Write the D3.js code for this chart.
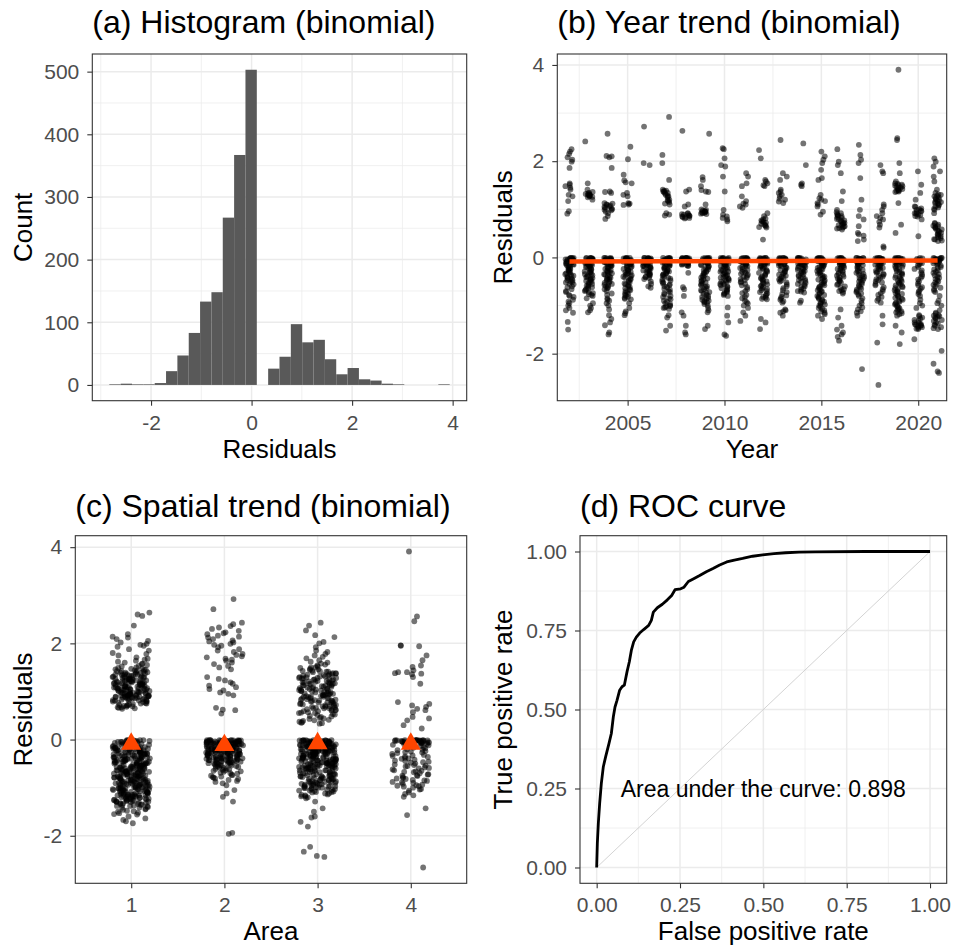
<!DOCTYPE html>
<html><head><meta charset="utf-8">
<script src="https://cdn.jsdelivr.net/npm/d3@7"></script>
<style>body{margin:0;background:#fff}svg{display:block}</style>
</head><body><svg id="c" width="955" height="950"></svg>
<script>
// ---------------- DATA ----------------
// (a) histogram: 30 bins
const histBinStart = -2.83;
const histBinWidth = 0.2257;
const histCounts = [1,2,1,1,3,22,47,83,133,148,267,367,503,0,26,45,97,68,72,41,17,27,9,7,2,1,0,0,0,1];

// (b) residuals by year (values in hundredths)
const years = [2002,2003,2004,2005,2006,2007,2008,2009,2010,2011,2012,2013,2014,2015,2016,2017,2018,2019,2020,2021];
const y2002 = [225,220,215,208,203,199,186,154,151,148,145,141,130,127,117,96,91,-1,-1,-2,-3,-4,-5,-6,-8,-10,-12,-14,-16,-19,-22,-25,-28,-30,-33,-36,-38,-40,-42,-45,-48,-50,-52,-55,-60,-66,-72,-78,-82,-88,-95,-100,-105,-110,-115,-134,-150,
 -1,-2,-3,-4,-6,-7,-9,-11,-13,-15,-18,-21,-24,-27,-31,-35,-39,-43,-47,-51,-56,-62,-70,-80,-92];
const y2003 = [241,154,141,136,134,131,130,128,127,125,120,-1,-1,-2,-2,-3,-4,-5,-6,-7,-9,-10,-12,-14,-16,-18,-20,-23,-26,-29,-32,-35,-38,-41,-44,-47,-50,-53,-57,-60,-64,-68,-72,-76,-80,-85,-95,-100,-105,-110,-114,
 133,132,130,129,126,-1,-2,-3,-4,-6,-8,-11,-13,-15,-17,-19,-22,-25,-28,-31,-34,-37,-40,-43,-46,-49,-52,-55,-59,-62,-66,-70,-74,-78];
const y2004 = [257,211,210,208,186,137,136,134,113,110,108,106,103,99,95,92,86,80,-1,-1,-2,-3,-4,-5,-7,-8,-10,-12,-14,-16,-18,-21,-24,-27,-30,-33,-36,-40,-43,-46,-50,-53,-57,-60,-64,-70,-78,-85,-90,-95,-100,-108,-120,-128,-135,-141,-156,-160,
 112,109,105,102,100,98,-1,-2,-3,-5,-6,-9,-11,-13,-15,-17,-20,-23,-26,-29,-32,-35,-38,-42,-45,-48,-52,-55,-59,-62,-66,-75,-88];
const y2005 = [230,204,172,160,156,154,134,130,127,113,112,110,109,-1,-1,-2,-3,-4,-5,-6,-8,-10,-12,-14,-16,-19,-22,-25,-28,-31,-34,-37,-40,-44,-48,-52,-56,-60,-64,-68,-72,-76,-80,-84,-87,-95,-105,-112,-116,-120,
 -1,-2,-3,-5,-7,-9,-11,-13,-15,-18,-21,-24,-27,-30,-33,-36,-39,-42,-46,-50,-54,-58,-62,-66,-70,-74,-78,-82,-86];
const y2006 = [272,196,192,-1,-1,-2,-2,-3,-4,-5,-6,-7,-8,-10,-12,-14,-16,-18,-20,-23,-26,-29,-32,-35,-38,-41,-45,-50,-55,-60,-63,
 -1,-2,-3,-4,-5,-6,-7,-9,-11,-13,-15,-17,-19,-21,-24,-27,-30,-33,-36,-40,-43];
const y2007 = [292,213,196,161,141,138,137,134,130,127,120,117,110,92,89,87,-1,-1,-2,-3,-4,-5,-7,-9,-11,-13,-15,-18,-21,-24,-27,-30,-33,-36,-40,-44,-48,-52,-56,-60,-65,-70,-75,-80,-85,-90,-95,-100,-102,-105,-107,-120,-125,-142,-152,
 139,136,133,128,125,119,115,112,-1,-2,-3,-4,-6,-8,-10,-12,-14,-17,-20,-23,-26,-29,-32,-35,-38,-42,-46,-50,-54,-58,-62,-67,-72,-77,-82,-87,-92,-97,-101,-104];
const y2008 = [263,141,137,110,106,92,90,88,86,84,82,-1,-1,-2,-2,-3,-4,-5,-6,-8,-10,-12,-14,-16,-18,-32,-62,-66,-80,-114,-121,-142,-156,-160,
 91,89,87,85,83,81,-1,-1,-2,-3,-3,-4,-5,-6,-7,-9,-11,-13,-15,-17];
const y2009 = [257,167,161,148,140,137,136,110,100,99,97,95,94,92,90,-1,-1,-2,-3,-4,-5,-6,-8,-10,-12,-15,-18,-21,-25,-28,-32,-36,-40,-44,-48,-52,-56,-60,-64,-68,-72,-76,-80,-84,-88,-91,-94,-97,-100,-105,-110,-114,-142,-149,
 96,95,93,91,-1,-2,-3,-4,-7,-9,-11,-13,-16,-19,-23,-26,-30,-34,-38,-42,-46,-50,-54,-58,-62,-66,-70,-74,-78,-82,-86,-90,-93];
const y2010 = [227,225,206,192,189,168,137,99,89,85,82,79,75,-1,-1,-2,-3,-4,-5,-6,-8,-10,-12,-14,-17,-20,-23,-26,-29,-32,-35,-38,-41,-44,-47,-50,-53,-56,-60,-64,-68,-72,-76,-80,-104,-121,-135,-160,-163,
 -1,-2,-3,-4,-7,-9,-11,-13,-15,-18,-21,-24,-27,-30,-33,-36,-39,-42,-45,-48,-51,-55,-58,-62,-66,-70,-74,-78];
const y2011 = [175,168,154,148,127,117,112,110,106,103,-1,-1,-2,-3,-4,-5,-7,-9,-11,-14,-17,-20,-24,-28,-32,-36,-40,-45,-50,-55,-62,-70,-78,-85,-90,-96,-100,-105,-114,-121,-132,
 -1,-2,-3,-4,-6,-8,-10,-12,-15,-18,-22,-26,-30,-34,-38,-42,-47,-52,-58,-66,-74,-82,-93];
const y2012 = [223,206,161,158,154,150,148,92,86,79,75,72,68,65,62,37,-1,-1,-2,-3,-4,-5,-6,-8,-10,-12,-14,-17,-20,-23,-26,-30,-34,-38,-42,-46,-50,-54,-58,-62,-66,-70,-75,-80,-84,-87,-128,-135,-149,
 81,77,74,70,67,63,-1,-2,-3,-4,-7,-9,-11,-13,-15,-18,-21,-24,-28,-32,-36,-40,-44,-48,-52,-56,-60,-64,-68,-72,-77,-82,-86];
const y2013 = [244,175,168,161,141,137,134,130,127,122,120,116,113,-1,-1,-2,-3,-4,-5,-6,-8,-10,-12,-14,-17,-20,-24,-28,-32,-36,-40,-44,-48,-52,-60,-68,-76,-82,-88,-94,-108,-110,-112,-115,-121,
 -1,-2,-3,-4,-7,-9,-11,-13,-15,-18,-22,-26,-30,-34,-38,-42,-46,-50,-56,-64,-72,-79,-85,-91];
const y2014 = [237,192,154,151,148,-1,-1,-2,-3,-4,-5,-6,-7,-8,-10,-12,-14,-16,-19,-22,-25,-28,-31,-35,-39,-43,-47,-51,-55,-60,-65,-70,-73,-90,-94,
 -1,-2,-3,-4,-5,-6,-9,-11,-13,-15,-17,-20,-23,-26,-29,-33,-37,-41,-45,-49,-53,-57,-62,-67,-71];
const y2015 = [220,210,203,196,182,165,161,130,123,120,117,113,110,106,95,89,-1,-1,-2,-3,-4,-5,-7,-9,-11,-13,-16,-19,-22,-25,-28,-32,-36,-40,-44,-48,-52,-56,-60,-64,-68,-72,-76,-80,-84,-88,-92,-96,-100,-105,-110,-115,-121,-128,
 -1,-2,-3,-4,-6,-8,-10,-12,-14,-17,-20,-23,-26,-30,-34,-38,-42,-46,-50,-54,-58,-62,-66,-70,-74,-78,-82,-86,-90,-94,-98,-102,-107,-112,-118];
const y2016 = [225,199,192,175,137,117,99,94,92,88,86,82,79,76,72,70,68,65,62,58,-1,-1,-2,-3,-4,-5,-6,-8,-10,-12,-14,-17,-20,-23,-26,-30,-34,-38,-42,-46,-50,-55,-60,-66,-70,-75,-108,-125,-142,-150,-156,-160,-165,-173,
 90,87,84,80,77,74,71,67,64,61,60,-1,-2,-3,-4,-7,-9,-11,-13,-15,-18,-21,-24,-28,-32,-36,-40,-44,-48,-52,-57,-63,-68,-72];
const y2017 = [234,213,203,196,165,120,99,86,79,65,51,48,45,37,34,-1,-1,-2,-3,-4,-5,-6,-8,-10,-12,-15,-18,-22,-26,-30,-34,-38,-42,-46,-50,-55,-60,-65,-70,-75,-80,-90,-100,-108,-115,-121,-232,
 -1,-2,-3,-4,-7,-9,-11,-13,-16,-20,-24,-28,-32,-36,-40,-44,-48,-52,-57,-62,-67,-72,-77,-85,-95,-104,-112];
const y2018 = [192,179,175,110,106,99,92,86,82,79,74,68,62,23,20,-1,-1,-2,-3,-4,-5,-6,-8,-10,-12,-15,-18,-21,-24,-28,-32,-36,-40,-45,-50,-55,-62,-70,-78,-90,-94,-121,-139,-177,-265,
 -1,-2,-3,-4,-7,-9,-11,-13,-16,-19,-22,-26,-30,-34,-38,-42,-47,-52,-58,-66,-74,-82,-86];
const y2019 = [390,248,244,196,175,158,154,150,148,145,141,139,137,113,68,51,-1,-1,-2,-3,-4,-5,-6,-8,-10,-12,-14,-17,-20,-24,-28,-32,-36,-40,-44,-48,-52,-56,-60,-64,-68,-72,-76,-80,-84,-88,-92,-96,-100,-104,-108,-112,-116,-121,-142,-156,-180,
 153,151,149,147,144,142,140,138,136,-1,-2,-3,-4,-7,-9,-11,-13,-15,-18,-22,-26,-30,-34,-38,-42,-46,-50,-54,-58,-62,-66,-70,-74,-78,-82,-86,-90,-94,-98,-102,-106,-110,-114,-118];
const y2020 = [179,151,134,120,106,102,99,96,92,89,86,79,44,-1,-2,-4,-6,-10,-14,-20,-27,-35,-42,-50,-58,-65,-72,-80,-88,-95,-100,-105,-120,-125,-130,-135,-138,-140,-142,-145,-149,-170,
 105,100,97,94,91,88,85,-3,-8,-12,-17,-24,-31,-39,-46,-54,-62,-69,-76,-122,-127,-132,-136,-139,-141,-143,-146,-148];
const y2021 = [206,199,189,179,168,158,141,134,130,127,123,120,116,113,110,106,99,92,72,68,65,62,58,55,51,47,44,40,37,34,-1,-1,-2,-3,-4,-5,-7,-9,-12,-15,-20,-25,-30,-35,-40,-45,-50,-55,-60,-66,-72,-80,-90,-95,-100,-110,-115,-120,-122,-125,-130,-135,-140,-145,-149,-194,-221,-237,-240,
 131,128,125,121,118,115,112,108,104,101,70,66,63,60,56,53,49,45,42,38,35,-1,-2,-3,-4,-6,-8,-10,-13,-17,-22,-27,-32,-37,-42,-47,-52,-57,-63,-69,-117,-121,-124,-127,-132,-137,-142,-147];
const trendYears = [2002, 2021];
const trendValues = [-0.085, -0.062];

// (c) residuals by area (values in hundredths)
const areas = [1,2,3,4];
const area1 = [264,260,257,237,219,214,212,209,205,202,199,197,195,193,188,185,180,178,175,171,168,166,164,162,160,158,157,155,153,
152,150,149,147,146,145,144,143,142,141,140,140,139,138,137,137,136,135,135,134,133,133,132,131,131,130,129,129,128,127,127,126,125,125,124,123,123,122,121,121,120,119,119,118,117,117,116,115,115,114,113,113,112,111,111,110,109,109,108,107,107,106,105,105,104,103,103,102,101,101,100,99,99,98,97,97,96,95,95,94,93,93,92,92,91,91,90,90,89,89,88,88,87,86,85,84,83,82,81,80,79,78,76,75,74,72,71,70,68,67,66,64,
-1,-1,-2,-2,-3,-3,-4,-5,-5,-6,-7,-7,-8,-9,-10,-10,-11,-12,-13,-13,-14,-15,-16,-16,-17,-18,-19,-19,-20,-21,-22,-22,-23,-24,-25,-25,-26,-27,-28,-28,-29,-30,-31,-31,-32,-33,-34,-34,-35,-36,-37,-37,-38,-39,-40,-40,-41,-42,-43,-43,-44,-45,-46,-46,-47,-48,-49,-49,-50,-51,-52,-52,-53,-54,-55,-55,-56,-57,-58,-58,-59,-60,-61,-61,-62,-63,-64,-64,-65,-66,-67,-67,-68,-69,-70,-70,-71,-72,-73,-73,-74,-75,-76,-76,-77,-78,-79,-79,-80,-81,-82,-82,-83,-84,-85,-85,-86,-87,-88,-88,-89,-90,-91,-91,-92,-93,-94,-94,-95,-96,-97,-97,-98,-99,-100,-100,-101,-102,-103,-103,-104,-105,-106,-106,-107,-108,-109,-109,-110,-111,-112,-112,-113,-114,-115,-115,-116,-117,-118,-118,-119,-120,-121,-121,-122,-123,-124,-125,-126,-127,-128,-129,-130,-131,-132,-133,-134,-135,-136,-137,-138,-139,-140,-142,-144,-146,-148,-150,-153,-156,-160,-164,-167,-170,-174,
-21,-24,-27,-30,-33,-36,-39,-42,-45,-48,-51,-54,-57,-60,-63,-66,-69,-72,-75,-78,-81,-84,-87,-90,-93,-96,-99,-102,-105,-108,-111,-114,-117,-120,-123,-126,-129];
const area1Dense = [148,145,142,139,136,133,130,127,124,121,118,115,112,109,106,103,100,97,94,91,89,87,85,83,81,79,77,75,73,71,69,67,65,126,122,118,114,110,106,102,98,94,90,86,84,81,120,112,104,96,92,88,
-1,-2,-4,-5,-7,-8,-10,-11,-13,-14,-16,-17,-19,-20,-22,-23,-25,-26,-28,-29,-31,-32,-34,-35,-37,-38,-40,-41,-43,-44,-46,-47,-49,-50,-52,-53,-55,-56,-58,-59,-61,-62,-64,-65,-67,-68,-70,-71,-73,-74,-76,-77,-79,-80,-82,-83,-85,-86,-88,-89,-91,-92,-94,-95,-97,-98,-100,-101,-103,-104,-106,-107,-109,-110,-112,-113,-115,-116,-118,-119,-121,-122,-124,-125,-127,-128,-130,-132,-134,-136,-138,-141,-145,-149,-152,-155];
const area2 = [292,271,243,240,236,233,230,226,223,221,219,216,214,212,209,206,204,202,199,197,195,192,188,185,182,178,176,173,171,168,166,164,160,157,153,150,146,130,126,123,119,116,112,109,105,102,98,95,92,66,62,61,54,
-1,-1,-1,-1,-2,-2,-2,-2,-3,-3,-3,-4,-4,-4,-5,-5,-5,-6,-6,-6,-7,-7,-8,-8,-8,-9,-9,-10,-10,-10,-11,-11,-12,-12,-13,-13,-14,-14,-15,-15,-16,-16,-17,-17,-18,-18,-19,-19,-20,-20,-21,-21,-22,-22,-23,-23,-24,-24,-25,-25,-26,-26,-27,-27,-28,-28,-29,-29,-30,-30,-31,-32,-32,-33,-34,-34,-35,-36,-36,-37,-38,-38,-39,-40,-40,-41,-42,-42,-43,-44,-44,-45,-46,-46,-47,-48,-49,-50,-51,-52,-53,-54,-55,-56,-57,-59,-61,-63,-65,-67,-69,-71,-73,-75,-77,-79,-81,-84,-86,-88,-91,-95,-105,-112,-119,-129,-194,-196];
const area2Dense = [-1,-1,-2,-2,-3,-3,-4,-4,-5,-5,-6,-6,-7,-7,-8,-8,-9,-9,-10,-10,-11,-12,-13,-14,-15,-16,-17,-18,-19,-20,-21,-22,-23,-24,-25,-26,-27,-28,-29,-30,-31,-32,-33,-34,-35,-36,-37,-38,-39,-40,-41,-42,-43,-44,-45,-46,-47,-48,-49,-50,-52,-54,-56,-58,-60,-62,-64,-66,-70,-74,-78,-82];
const area3 = [243,237,227,217,213,203,200,192,185,182,178,175,172,169,165,162,160,158,156,154,152,150,149,147,145,143,141,140,138,136,135,133,131,130,128,127,125,123,122,120,119,117,116,114,113,111,110,108,107,105,104,102,101,99,98,96,95,93,92,90,89,87,86,84,83,81,80,78,77,75,74,72,71,69,68,66,65,63,62,60,59,57,55,53,51,49,47,45,43,41,39,37,35,34,33,
141,137,133,129,125,121,117,113,109,105,101,97,93,89,85,81,77,73,69,65,61,128,124,118,112,106,100,94,88,82,
-1,-1,-1,-2,-2,-2,-3,-3,-3,-4,-4,-4,-5,-5,-5,-6,-6,-7,-7,-8,-8,-9,-9,-10,-10,-11,-11,-12,-12,-13,-13,-14,-14,-15,-15,-16,-16,-17,-17,-18,-18,-19,-19,-20,-20,-21,-21,-22,-22,-23,-23,-24,-24,-25,-25,-26,-26,-27,-27,-28,-28,-29,-29,-30,-30,-31,-32,-32,-33,-34,-34,-35,-36,-36,-37,-38,-38,-39,-40,-40,-41,-42,-42,-43,-44,-44,-45,-46,-46,-47,-48,-48,-49,-50,-50,-51,-52,-52,-53,-54,-54,-55,-56,-56,-57,-58,-58,-59,-60,-60,
-61,-62,-63,-64,-65,-66,-67,-68,-69,-70,-71,-72,-73,-74,-75,-76,-77,-78,-79,-80,-81,-82,-83,-84,-85,-86,-87,-88,-89,-90,-91,-92,-93,-94,-95,-96,-97,-98,-99,-100,-101,-102,-103,-104,-105,-106,-107,-108,-109,-110,-112,-114,-116,-118,-120,-122,-64,-68,-72,-76,-80,-84,-88,-92,-96,-100,
-129,-143,-150,-160,-162,-171,-181,-223,-233,-242,-244];
const area3Dense = [150,146,142,138,134,131,128,125,122,119,116,113,110,107,104,101,98,95,92,89,86,83,80,77,74,71,68,65,62,59,56,52,48,44,40,36,143,136,127,115,103,91,79,67,55,
-1,-1,-2,-2,-3,-3,-4,-4,-5,-5,-6,-6,-7,-7,-8,-9,-10,-11,-12,-13,-14,-15,-16,-17,-18,-19,-20,-21,-22,-23,-24,-25,-26,-27,-28,-29,-30,-31,-32,-33,-34,-35,-36,-37,-38,-39,-40,-41,-42,-43,-44,-45,-46,-47,-48,-49,-50,-51,-52,-53,-54,-55,-56,-57,-58,-59,-60,-62,-64,-66,-68,-70,-72,-74,-76,-78,-80,-82,-84,-86,-88,-90,-92,-94,-96,-98,-100,-103,-106,-109,-112,-115,-118];
const area4 = [391,256,246,196,195,194,175,165,154,151,144,140,138,136,130,116,78,71,68,61,57,47,44,40,30,23,
-1,-1,-1,-1,-2,-2,-2,-3,-3,-3,-4,-4,-5,-5,-6,-6,-7,-7,-8,-8,-9,-10,-11,-12,-13,-14,-16,-18,-20,-22,-24,-26,-28,-30,-32,-34,-36,-38,-40,-42,-44,-46,-48,-50,-52,-54,-56,-58,-60,-62,-64,-66,-68,-70,-72,-74,-76,-78,-80,-82,-84,-86,-88,-90,-92,-94,-96,-98,-100,-103,-106,-110,-113,-116,-25,-35,-45,-55,-65,-75,-85,-95,-119,-143,-157,-266];
const area4Dense = [140,137,74,64,-1,-1,-2,-2,-3,-3,-4,-5,-6,-7,-8,-10,-13,-17,-21,-27,-33,-39,-47,-53,-59,-67,-73,-81,-89,-97,-104];
const areaMeans = [-0.09, -0.12, -0.08, -0.09];

// (d) ROC curve
const rocFPR = [0,0.002,0.005,0.009,0.014,0.02,0.027,0.037,0.044,0.05,0.055,0.061,0.069,0.076,0.083,0.091,0.098,0.104,0.111,0.119,0.129,0.141,0.156,0.164,0.17,0.182,0.197,0.212,0.225,0.235,0.252,0.262,0.275,0.291,0.309,0.329,0.349,0.369,0.39,0.413,0.438,0.468,0.498,0.532,0.567,0.607,0.656,0.805,1];
const rocTPR = [0,0.077,0.14,0.203,0.266,0.319,0.351,0.393,0.424,0.477,0.508,0.529,0.561,0.572,0.577,0.619,0.651,0.687,0.714,0.729,0.742,0.753,0.766,0.782,0.808,0.822,0.833,0.847,0.861,0.879,0.882,0.887,0.905,0.914,0.924,0.936,0.946,0.957,0.967,0.973,0.978,0.985,0.989,0.993,0.996,0.998,0.999,1,1];
const aucLabel = "Area under the curve: 0.898";

// ---------------- DRAWING ----------------
const FONT = '"Liberation Sans", Arial, Helvetica, sans-serif';
const svg = d3.select('#c');
svg.append('rect').attr('width',955).attr('height',950).attr('fill','#fff');
const TICK_FS = 21, AXIS_FS = 26, TITLE_FS = 32;
const DOT_R = 2.9, DOT_OP = 0.55;

function jitter(i, seed){ const s = Math.sin((i+1)*12.9898 + seed*78.233)*43758.5453; return (s-Math.floor(s))*2-1; }
function expand(ext, f=0.05){ const d=ext[1]-ext[0]; return [ext[0]-d*f, ext[1]+d*f]; }

function grid(box, x, y, o){
  const g = svg.append('g');
  g.append('rect').attr('x',box.l).attr('y',box.t).attr('width',box.r-box.l).attr('height',box.b-box.t).attr('fill','#fff');
  g.selectAll('.xm').data(o.xMinor||[]).join('line').attr('x1',d=>x(d)).attr('x2',d=>x(d)).attr('y1',box.t).attr('y2',box.b).attr('stroke','#EBEBEB').attr('stroke-width',0.75);
  g.selectAll('.ym').data(o.yMinor||[]).join('line').attr('y1',d=>y(d)).attr('y2',d=>y(d)).attr('x1',box.l).attr('x2',box.r).attr('stroke','#EBEBEB').attr('stroke-width',0.75);
  g.selectAll('.xM').data(o.xTicks).join('line').attr('x1',d=>x(d)).attr('x2',d=>x(d)).attr('y1',box.t).attr('y2',box.b).attr('stroke','#EBEBEB').attr('stroke-width',1.5);
  g.selectAll('.yM').data(o.yTicks).join('line').attr('y1',d=>y(d)).attr('y2',d=>y(d)).attr('x1',box.l).attr('x2',box.r).attr('stroke','#EBEBEB').attr('stroke-width',1.5);
}
function frame(box, x, y, o){
  svg.append('rect').attr('x',box.l).attr('y',box.t).attr('width',box.r-box.l).attr('height',box.b-box.t)
    .attr('fill','none').attr('stroke','#333333').attr('stroke-width',1.1);
  const ax = svg.append('g').attr('transform',`translate(0,${box.b})`)
    .call(d3.axisBottom(x).tickValues(o.xTicks).tickFormat(o.xFmt).tickSize(5).tickPadding(9));
  const ay = svg.append('g').attr('transform',`translate(${box.l},0)`)
    .call(d3.axisLeft(y).tickValues(o.yTicks).tickFormat(o.yFmt).tickSize(5).tickPadding(8));
  [ax,ay].forEach(a=>{
    a.select('.domain').remove();
    a.attr('font-family',FONT).attr('font-size',TICK_FS);
    a.selectAll('line').attr('stroke','#333333').attr('stroke-width',1.1);
    a.selectAll('text').attr('fill','#4D4D4D');
  });
  svg.append('text').attr('x',(box.l+box.r)/2).attr('y',box.b+57).attr('text-anchor','middle')
    .attr('font-family',FONT).attr('font-size',AXIS_FS).attr('fill','#000').text(o.xLabel);
  svg.append('text').attr('transform',`translate(${o.yLabelX},${(box.t+box.b)/2}) rotate(-90)`).attr('text-anchor','middle')
    .attr('font-family',FONT).attr('font-size',AXIS_FS).attr('fill','#000').text(o.yLabel);
  svg.append('text').attr('x',box.l).attr('y',o.titleY).attr('font-family',FONT).attr('font-size',TITLE_FS).attr('fill','#000').text(o.title);
}

// ---- (a) histogram
{
  const box = {l:92.3, r:466.7, t:54, b:400.7};
  const bins = histCounts.map((c,i)=>({x0: histBinStart + i*histBinWidth, x1: histBinStart + (i+1)*histBinWidth, c}));
  const x = d3.scaleLinear().domain(expand([bins[0].x0, bins[bins.length-1].x1])).range([box.l, box.r]);
  const y = d3.scaleLinear().domain(expand([0, d3.max(histCounts)])).range([box.b, box.t]);
  const o = {xTicks:[-2,0,2,4], yTicks:[0,100,200,300,400,500], xMinor:[-3,-1,1,3], yMinor:[50,150,250,350,450],
    xFmt:d=>d<0?'-'+Math.abs(d):d, yFmt:d=>d, xLabel:'Residuals', yLabel:'Count', yLabelX:32, titleY:33, title:'(a) Histogram (binomial)'};
  grid(box,x,y,o);
  svg.append('g').selectAll('rect').data(bins).join('rect')
    .attr('x',d=>x(d.x0)).attr('width',d=>x(d.x1)-x(d.x0))
    .attr('y',d=>y(d.c)).attr('height',d=>Math.max(0,y(0)-y(d.c)))
    .attr('fill','#595959');
  frame(box,x,y,o);
}

// ---- (b) year trend
{
  const box = {l:557.3, r:946.7, t:54, b:400.7};
  const byYear = [y2002,y2003,y2004,y2005,y2006,y2007,y2008,y2009,y2010,y2011,y2012,y2013,y2014,y2015,y2016,y2017,y2018,y2019,y2020,y2021];
  const pts = [];
  byYear.forEach((arr,gi)=>arr.forEach((v,i)=>pts.push({x: years[gi] + 0.22*jitter(i, gi+1), v: v/100})));
  const x = d3.scaleLinear().domain([2001.37, 2021.47]).range([box.l, box.r]);
  const y = d3.scaleLinear().domain(expand(d3.extent(pts,d=>d.v))).range([box.b, box.t]);
  const o = {xTicks:[2005,2010,2015,2020], yTicks:[-2,0,2,4], xMinor:[2002.5,2007.5,2012.5,2017.5], yMinor:[-1,1,3],
    xFmt:d=>d, yFmt:d=>d<0?'-'+Math.abs(d):d, xLabel:'Year', yLabel:'Residuals', yLabelX:512, titleY:33, title:'(b) Year trend (binomial)'};
  grid(box,x,y,o);
  svg.append('g').selectAll('circle').data(pts).join('circle')
    .attr('cx',d=>x(d.x)).attr('cy',d=>y(d.v)).attr('r',DOT_R).attr('fill','#000').attr('fill-opacity',DOT_OP);
  svg.append('path').datum(trendYears.map((t,i)=>[t,trendValues[i]]))
    .attr('d',d3.line().x(d=>x(d[0])).y(d=>y(d[1]))).attr('stroke','#FF4500').attr('stroke-width',4.5).attr('fill','none');
  frame(box,x,y,o);
}

// ---- (c) spatial trend
{
  const box = {l:75.3, r:466.7, t:535.7, b:883.3};
  const byArea = [area1.concat(area1Dense), area2.concat(area2Dense), area3.concat(area3Dense), area4.concat(area4Dense)];
  const pts = [];
  byArea.forEach((arr,gi)=>arr.forEach((v,i)=>pts.push({x: areas[gi] + 0.2*jitter(i, gi+31), v: v/100})));
  const x = d3.scaleLinear().domain([0.4, 4.6]).range([box.l, box.r]);
  const y = d3.scaleLinear().domain(expand(d3.extent(pts,d=>d.v))).range([box.b, box.t]);
  const o = {xTicks:areas, yTicks:[-2,0,2,4], xMinor:[], yMinor:[-1,1,3],
    xFmt:d=>d, yFmt:d=>d<0?'-'+Math.abs(d):d, xLabel:'Area', yLabel:'Residuals', yLabelX:32, titleY:517, title:'(c) Spatial trend (binomial)'};
  grid(box,x,y,o);
  svg.append('g').selectAll('circle').data(pts).join('circle')
    .attr('cx',d=>x(d.x)).attr('cy',d=>y(d.v)).attr('r',DOT_R).attr('fill','#000').attr('fill-opacity',DOT_OP);
  svg.append('g').selectAll('path').data(areas.map((a,i)=>[a,areaMeans[i]])).join('path')
    .attr('transform',d=>`translate(${x(d[0])},${y(d[1])})`)
    .attr('d',d3.symbol(d3.symbolTriangle,173)()).attr('fill','#FF4500');
  frame(box,x,y,o);
}

// ---- (d) ROC
{
  const box = {l:580, r:946.7, t:535.7, b:883.3};
  const x = d3.scaleLinear().domain([-0.05, 1.05]).range([box.l, box.r]);
  const y = d3.scaleLinear().domain([-0.05, 1.05]).range([box.b, box.t]);
  const t = [0,0.25,0.5,0.75,1];
  const o = {xTicks:t, yTicks:t, xMinor:[0.125,0.375,0.625,0.875], yMinor:[0.125,0.375,0.625,0.875],
    xFmt:d3.format('.2f'), yFmt:d3.format('.2f'), xLabel:'False positive rate', yLabel:'True positive rate', yLabelX:512, titleY:517, title:'(d) ROC curve'};
  grid(box,x,y,o);
  svg.append('line').attr('x1',x(0)).attr('y1',y(0)).attr('x2',x(1)).attr('y2',y(1)).attr('stroke','#C8C8C8').attr('stroke-width',0.8);
  svg.append('path').datum(rocFPR.map((f,i)=>[f,rocTPR[i]]))
    .attr('d',d3.line().x(d=>x(d[0])).y(d=>y(d[1]))).attr('stroke','#000').attr('stroke-width',2.8).attr('fill','none').attr('stroke-linejoin','round');
  svg.append('text').attr('x',x(0.5)).attr('y',y(0.25)).attr('dy','0.35em').attr('text-anchor','middle')
    .attr('font-family',FONT).attr('font-size',23).attr('fill','#000').text(aucLabel);
  frame(box,x,y,o);
}
</script></body></html>
